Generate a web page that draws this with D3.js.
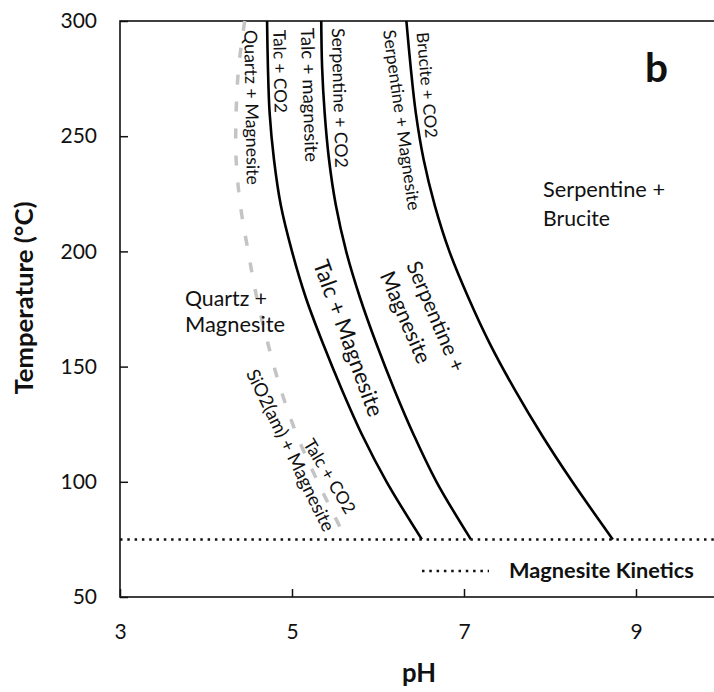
<!DOCTYPE html>
<html>
<head>
<meta charset="utf-8">
<script src="https://cdn.jsdelivr.net/npm/d3@7"></script>
<style>
  html, body { margin: 0; padding: 0; background: #fff; }
  svg { display: block; }
  text { font-family: Lato, "Open Sans", sans-serif; fill: #111; }
</style>
</head>
<body>
<script>
// ---------------- data ----------------
const temperatures = [300, 280, 260, 240, 220, 200, 180, 160, 140, 120, 100, 75];
// pH of each phase boundary at the temperatures above
const talcBoundary      = [4.71, 4.72, 4.74, 4.79, 4.87, 5.00, 5.16, 5.36, 5.58, 5.82, 6.10, 6.51];
const serpentineBoundary = [5.34, 5.35, 5.38, 5.43, 5.51, 5.63, 5.79, 5.98, 6.19, 6.42, 6.68, 7.08];
const bruciteBoundary   = [6.33, 6.38, 6.44, 6.53, 6.66, 6.83, 7.05, 7.30, 7.59, 7.91, 8.26, 8.73];
const silicaBoundary    = [4.45, 4.38, 4.35, 4.35, 4.40, 4.49, 4.59, 4.72, 4.87, 5.06, 5.30, 5.63];
const kineticsTemp = 75;
const xTicks = [3, 5, 7, 9];
const yTicks = [50, 100, 150, 200, 250, 300];
const xTitle = "pH";
const yTitle = "Temperature (°C)";
const legendLabel = "Magnesite Kinetics";
const panelLabel = "b";

// ---------------- layout ----------------
const W = 714, H = 692;
const svg = d3.select("body").append("svg").attr("width", W).attr("height", H);
const x = d3.scaleLinear().domain([3, 10]).range([120, 722]);
const y = d3.scaleLinear().domain([50, 300]).range([597, 21]);

function fit(sel, target) {
  const node = sel.node();
  const len = node.getComputedTextLength();
  const fs = parseFloat(sel.attr("font-size"));
  sel.attr("font-size", (fs * target / len).toFixed(2));
}

// frame
svg.append("rect")
  .attr("x", x(3)).attr("y", y(300))
  .attr("width", x(10) - x(3)).attr("height", y(50) - y(300))
  .attr("fill", "none").attr("stroke", "#111").attr("stroke-width", 1.6);

// axes
const yAxis = svg.append("g").attr("transform", `translate(${x(3)},0)`)
  .call(d3.axisLeft(y).tickValues(yTicks).tickFormat(d3.format("d")).tickSize(-8).tickPadding(23));
const xAxis = svg.append("g").attr("transform", `translate(0,${y(50)})`)
  .call(d3.axisBottom(x).tickValues(xTicks).tickFormat(d3.format("d")).tickSize(-8).tickPadding(27));
[yAxis, xAxis].forEach(g => {
  g.select(".domain").remove();
  g.selectAll(".tick line").attr("stroke", "#111").attr("stroke-width", 1.5);
  g.selectAll(".tick text").attr("font-size", 21).attr("font-family", "Lato, sans-serif").attr("fill", "#222");
});

// boundaries
const pts = arr => arr.map((p, i) => [p, temperatures[i]]);
const line = d3.line().x(d => x(d[0])).y(d => y(d[1])).curve(d3.curveCatmullRom.alpha(0.5));

svg.append("path").datum(pts(silicaBoundary)).attr("d", line)
  .attr("fill", "none").attr("stroke", "#c4c4c4").attr("stroke-width", 3.5)
  .attr("stroke-dasharray", "10,17");
[talcBoundary, serpentineBoundary, bruciteBoundary].forEach(b => {
  svg.append("path").datum(pts(b)).attr("d", line)
    .attr("fill", "none").attr("stroke", "#000").attr("stroke-width", 2.6);
});

// kinetics line
svg.append("line")
  .attr("x1", x(3)).attr("x2", W).attr("y1", y(kineticsTemp)).attr("y2", y(kineticsTemp))
  .attr("stroke", "#111").attr("stroke-width", 2.5).attr("stroke-dasharray", "2.5,4.8");

// legend
svg.append("line")
  .attr("x1", 422).attr("x2", 489).attr("y1", 571).attr("y2", 571)
  .attr("stroke", "#111").attr("stroke-width", 2.5).attr("stroke-dasharray", "2.5,4.8");
fit(svg.append("text").attr("x", 509).attr("y", 578).attr("font-size", 18)
  .attr("font-weight", "bold").text(legendLabel), 185);

// axis titles
fit(svg.append("text").attr("transform", "translate(33,298) rotate(-90)")
  .attr("text-anchor", "middle").attr("font-size", 20).attr("font-weight", "bold").text(yTitle), 193);
fit(svg.append("text").attr("x", 419).attr("y", 682)
  .attr("text-anchor", "middle").attr("font-size", 20).attr("font-weight", "bold").text(xTitle), 34);

// panel label
fit(svg.append("text").attr("x", x(9.105)).attr("y", y(273.5))
  .attr("font-size", 36).attr("font-weight", "bold").text(panelLabel), 23);

// rotated region labels (centre in data units, angle, length)
const rotLabels = [
  { t: "Quartz + Magnesite", ph: 4.541, T: 262.5, a: 89, len: 155 },
  { t: "Talc + CO2", ph: 4.866, T: 278.1, a: 89, len: 83 },
  { t: "Talc + magnesite", ph: 5.209, T: 267.9, a: 88, len: 134 },
  { t: "Serpentine + CO2", ph: 5.558, T: 266.6, a: 88.5, len: 140 },
  { t: "Serpentine + Magnesite", ph: 6.279, T: 257.0, a: 82, len: 182 },
  { t: "Brucite + CO2", ph: 6.576, T: 272.2, a: 85, len: 106 },
  { t: "Talc + Magnesite", ph: 5.663, T: 162.4, a: 70, len: 165 },
  { t: "Serpentine +", ph: 6.686, T: 172.0, a: 67, len: 118 },
  { t: "Magnesite", ph: 6.326, T: 171.5, a: 67, len: 98 },
  { t: "SiO2(am) + Magnesite", ph: 4.988, T: 113.8, a: 64, len: 178 },
  { t: "Talc + CO2", ph: 5.442, T: 102.5, a: 59, len: 84 }
];
rotLabels.forEach(d => {
  fit(svg.append("text")
    .attr("transform", `translate(${x(d.ph)},${y(d.T)}) rotate(${d.a})`)
    .attr("text-anchor", "middle").attr("dominant-baseline", "central")
    .attr("font-size", 16).text(d.t), d.len);
});

// horizontal region labels
const flatLabels = [
  { t: "Quartz +", ph: 3.756, T: 176.3, len: 82 },
  { t: "Magnesite", ph: 3.756, T: 165.0, len: 100 },
  { t: "Serpentine +", ph: 7.919, T: 223.6, len: 122 },
  { t: "Brucite", ph: 7.919, T: 211.0, len: 67 }
];
flatLabels.forEach(d => {
  fit(svg.append("text").attr("x", x(d.ph)).attr("y", y(d.T))
    .attr("font-size", 18).text(d.t), d.len);
});
</script>
</body>
</html>
